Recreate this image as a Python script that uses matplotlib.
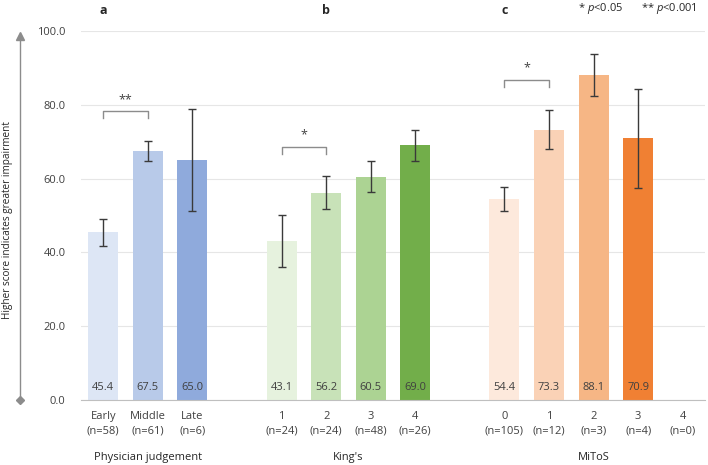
import numpy as np
from matplotlib import pyplot as plt

plt.rcParams['font.family'] = ['Open Sans', 'DejaVu Sans']
plt.rcParams['mathtext.fontset'] = 'custom'
plt.rcParams['mathtext.it'] = 'Open Sans:italic'

groups = ["Physician judgement", "King's", "MiToS"]
group_sizes = [3, 4, 5]
labels = ["Early\n(n=58)", "Middle\n(n=61)", "Late\n(n=6)",
          "1\n(n=24)", "2\n(n=24)", "3\n(n=48)", "4\n(n=26)",
          "0\n(n=105)", "1\n(n=12)", "2\n(n=3)", "3\n(n=4)", "4\n(n=0)"]
means = [45.4, 67.5, 65.0, 43.1, 56.2, 60.5, 69.0, 54.4, 73.3, 88.1, 70.9, np.nan]
errors = [3.6, 2.7, 13.9, 7.1, 4.4, 4.2, 4.3, 3.2, 5.4, 5.7, 13.4, np.nan]
colors = ['#dde6f5', '#b8cae9', '#8faadc',
          '#e6f2de', '#c8e2b8', '#acd393', '#72ae4a',
          '#fde9dc', '#fad2b6', '#f6b685', '#f08033', '#ffffff']
# significance brackets: (first bar index, second bar index, height, stars)
brackets = [(0, 1, 78.2, "**"), (3, 4, 68.5, "*"), (7, 8, 86.7, "*")]
panel_letters = ["a", "b", "c"]
panel_bar = [0, 4, 7]

# bar positions, one blank slot between groups
pos = []
x = 0
for g, n in enumerate(group_sizes):
    for i in range(n):
        pos.append(x)
        x += 1
    x += 1
pos = np.array(pos, dtype=float)

fig = plt.figure(figsize=(7.08, 4.65), dpi=100)
ax = fig.add_axes([81 / 708, 1 - 400 / 465, 624 / 708, 369 / 465])

ax.bar(pos, means, width=0.67, color=colors, zorder=2)
ax.errorbar(pos, means, yerr=errors, fmt='none', ecolor='#3a3a3a',
            elinewidth=1.0, capsize=3, capthick=1.0, zorder=3)

for p, m in zip(pos, means):
    if not np.isnan(m):
        ax.text(p, 3.5, "{:.1f}".format(m), ha='center', va='center',
                fontsize=8, color='#404040', zorder=4)

for i, j, h, s in brackets:
    ax.plot([pos[i], pos[i], pos[j], pos[j]], [h - 1.8, h, h, h - 1.8],
            color='#8c8c8c', lw=1.0, zorder=3)
    ax.text((pos[i] + pos[j]) / 2, h + 1.5, s, ha='center', va='bottom',
            fontsize=9, color='#404040')

ax.set_xlim(-0.5, pos[-1] + 0.5)
ax.set_ylim(0, 100)
ax.set_yticks(np.arange(0, 101, 20))
ax.set_yticklabels(["{:.1f}".format(v) for v in np.arange(0, 101, 20)])
ax.set_xticks(pos)
ax.set_xticklabels(labels, linespacing=1.4)
ax.tick_params(axis='both', length=0, labelsize=8, colors='#404040')
ax.tick_params(axis='y', pad=11)
ax.tick_params(axis='x', pad=8)
ax.grid(axis='y', color='#e6e6e6', lw=0.8, zorder=0)
for side in ['left', 'right', 'top']:
    ax.spines[side].set_visible(False)
ax.spines['bottom'].set_color('#bfbfbf')

# group labels
start = 0
for g, n in zip(groups, group_sizes):
    c = pos[start:start + n].mean()
    ax.text(c, -15.7, g, ha='center', va='center', fontsize=8, color='#262626')
    start += n

# panel letters
for letter, idx in zip(panel_letters, panel_bar):
    ax.text(pos[idx], 105.5, letter, ha='center', va='center', fontsize=9,
            fontweight='bold', color='#262626')

fig.text(0.848, 0.981, r"* $\mathit{p}$<0.05", ha='center', va='center',
         fontsize=8, color='#262626')
fig.text(0.945, 0.981, r"** $\mathit{p}$<0.001", ha='center', va='center',
         fontsize=8, color='#262626')

# arrow on the left
fig.add_artist(plt.Line2D([20 / 708, 20 / 708], [1 - 400 / 465, 1 - 40 / 465],
                          color='#8c8c8c', lw=1.0))
fig.add_artist(plt.Line2D([20 / 708], [1 - 400 / 465], marker='D',
                          markersize=4, color='#8c8c8c'))
fig.add_artist(plt.Line2D([20 / 708], [1 - 36 / 465], marker='^',
                          markersize=6, color='#8c8c8c'))
fig.text(8 / 708, 1 - 220 / 465, "Higher score indicates greater impairment",
         rotation=90, ha='center', va='center', fontsize=7.2, color='#262626')

fig.savefig("out.png", dpi=100)
